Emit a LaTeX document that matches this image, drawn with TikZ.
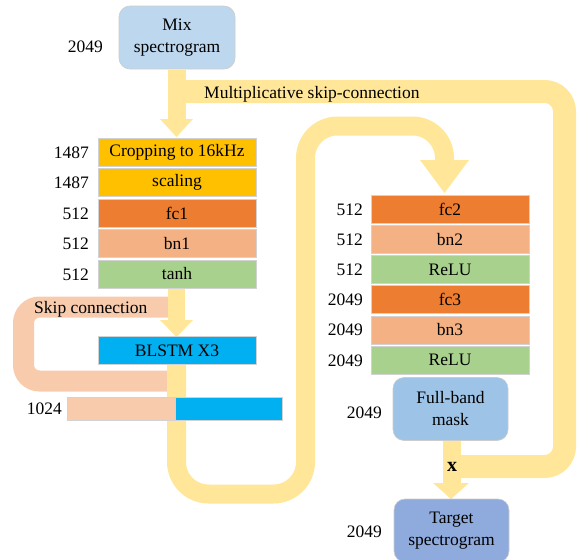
\documentclass[tikz,border=0pt]{standalone}
\usepackage{fontspec}
\setmainfont{Liberation Serif}
\definecolor{cYel}{HTML}{FFE699}
\definecolor{cSkip}{HTML}{F8CBAD}
\definecolor{cBn}{HTML}{F4B183}
\definecolor{cFc}{HTML}{ED7D31}
\definecolor{cCrop}{HTML}{FFC000}
\definecolor{cGreen}{HTML}{A9D18E}
\definecolor{cBlstm}{HTML}{00B0F0}
\definecolor{cMix}{HTML}{BDD7EE}
\definecolor{cMask}{HTML}{9DC3E6}
\definecolor{cTarget}{HTML}{8FAADC}
\begin{document}
\begin{tikzpicture}[x=1pt,y=-1pt,
  every node/.style={font=\fontsize{17.5}{21}\selectfont},
  layer/.style={draw=gray!35, line width=0.6pt, minimum width=158pt, minimum height=28pt, inner sep=0pt, text=black},
  rbox/.style={draw=gray!40, line width=0.6pt, rounded corners=11pt, minimum width=115pt, minimum height=63pt, inner sep=0pt, align=center, font=\fontsize{17.5}{22}\selectfont},
  catbar/.style={draw=gray!35, line width=0.6pt, minimum height=23pt, inner sep=0pt},
  dimlbl/.style={anchor=east, inner sep=0pt},
  band/.style={draw=cYel, line width=19pt, rounded corners=32pt},
  head/.style={fill=cYel, draw=none}]
\useasboundingbox (0,0) rectangle (579,560);

% anchor coordinates of the bands
\coordinate (mixS) at (177,69.5);
\coordinate (mixHead) at (177,119.5);
\coordinate (tanhS) at (176.5,288);
\coordinate (blstmS) at (176.5,364);
\coordinate (fcHead) at (444.5,160.5);
\coordinate (maskS) at (452,441);
\coordinate (s1) at (169,307);
\coordinate (s2) at (169,381);
\coordinate (m1) at (186,91.5);
\coordinate (m2) at (461,466.5);

% skip connection (peach)
\draw[draw=cSkip, line width=21pt, rounded corners=16pt] (s1) -- (23.5,307) -- (23.5,381) -- (s2);

% multiplicative skip-connection band
\draw[draw=cYel, line width=23pt, rounded corners=20pt] (m1) -- (564.5,91.5) -- (564.5,466.5) -- (m2);

% stems and heads (yellow)
\fill[cYel] (168,69.5) rectangle (186,119.5);
\fill[head] (160,119) -- (193,119) -- (176.5,137) -- cycle;
\fill[cYel] (168,288) rectangle (185,320.5);
\fill[head] (160,320) -- (193,320) -- (176.5,337) -- cycle;
\draw[band] (blstmS) -- (176.5,494) -- (305.5,494) -- (305.5,126) -- (444.5,126) -- (fcHead);
\fill[head] (420,160) -- (469,160) -- (444.5,193) -- cycle;
\fill[cYel] (443,441) rectangle (461,483.5);
\fill[head] (433,483) -- (469,483) -- (451,499) -- cycle;

% rounded boxes
\node[rbox, fill=cMix, minimum width=116pt] (mix) at (177,37.5) {Mix\\spectrogram};
\node[rbox, fill=cMask] (mask) at (450.5,409) {Full-band\\mask};
\node[rbox, fill=cTarget] (target) at (451.5,530.5) {Target\\spectrogram};

% left stack
\node[layer, fill=cCrop] (crop) at (177,152) {Cropping to 16kHz};
\node[layer, fill=cCrop] (scal) at (177,182.5) {scaling};
\node[layer, fill=cFc] (fc1) at (177,213) {fc1};
\node[layer, fill=cBn] (bn1) at (177,243.5) {bn1};
\node[layer, fill=cGreen] (tanh) at (177,274) {tanh};
\node[layer, fill=cBlstm] (blstm) at (177,350.5) {BLSTM X3};

% 1024 bar
\node[catbar, fill=cSkip, minimum width=108pt] (catA) at (121,408.5) {};
\node[catbar, fill=cBlstm, minimum width=107pt] (catB) at (228.5,408.5) {};

% right stack
\node[layer, fill=cFc] (fc2) at (450,209) {fc2};
\node[layer, fill=cBn] (bn2) at (450,239.2) {bn2};
\node[layer, fill=cGreen] (relu1) at (450,269.4) {ReLU};
\node[layer, fill=cFc] (fc3) at (450,299.6) {fc3};
\node[layer, fill=cBn] (bn3) at (450,329.8) {bn3};
\node[layer, fill=cGreen] (relu2) at (450,360) {ReLU};

% texts
\node[anchor=base west, inner sep=0pt] (mtxt) at (204,98.5) {Multiplicative skip-connection};
\node[anchor=base west, inner sep=0pt] (stxt) at (34,313.5) {Skip connection};
\node[inner sep=0pt, font=\bfseries\fontsize{20}{22}\selectfont] (xl) at (452,467) {x};

% dimension labels
\node[dimlbl] (d0) at (103,47) {2049};
\node[dimlbl] (d1) at (89,152.5) {1487};
\node[dimlbl] (d2) at (89,183) {1487};
\node[dimlbl] (d3) at (89,213.5) {512};
\node[dimlbl] (d4) at (89,244) {512};
\node[dimlbl] (d5) at (89,274.5) {512};
\node[dimlbl] (d6) at (62,409) {1024};
\node[dimlbl] (r1) at (363,209.5) {512};
\node[dimlbl] (r2) at (363,239.5) {512};
\node[dimlbl] (r3) at (363,270) {512};
\node[dimlbl] (r4) at (363,300) {2049};
\node[dimlbl] (r5) at (363,330) {2049};
\node[dimlbl] (r6) at (363,360.5) {2049};
\node[dimlbl] (r7) at (382,413) {2049};
\node[dimlbl] (r8) at (382,532) {2049};
\end{tikzpicture}
\end{document}
